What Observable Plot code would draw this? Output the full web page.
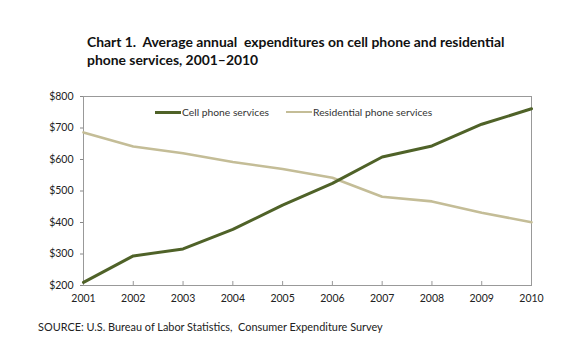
<!DOCTYPE html>
<html>
<head>
<meta charset="utf-8">
<script src="https://cdn.jsdelivr.net/npm/d3@7"></script>
<script src="https://cdn.jsdelivr.net/npm/@observablehq/plot@0.6"></script>
<style>
  html, body { margin: 0; padding: 0; background: #fff; }
  body { width: 578px; height: 357px; position: relative; overflow: hidden; font-family: Lato, "Open Sans", sans-serif; }
  #title { position: absolute; left: 87px; top: 33px; font-weight: bold; font-size: 13.9px; line-height: 18px; color: #111; white-space: pre; }
  #chart { position: absolute; left: 0; top: 80px; }
  #legend { position: absolute; top: 106px; left: 155px; font-size: 10.3px; color: #333; display: flex; align-items: center; white-space: nowrap; }
  #legend .sw { display: inline-block; width: 26px; height: 3px; margin-right: 1px; }
  #legend .item { display: flex; align-items: center; margin-right: 17px; }
  #source { position: absolute; left: 38px; top: 320px; font-size: 10.9px; color: #222; white-space: pre; }
</style>
</head>
<body>
<div id="title">Chart 1.  Average annual  expenditures on cell phone and residential
phone services, 2001–2010</div>
<div id="chart"></div>
<div id="legend"></div>
<div id="source">SOURCE: U.S. Bureau of Labor Statistics,  Consumer Expenditure Survey</div>
<script>
const years = [2001, 2002, 2003, 2004, 2005, 2006, 2007, 2008, 2009, 2010];
const cellPhone = [210, 294, 316, 378, 455, 524, 608, 643, 712, 761];
const residential = [686, 641, 620, 592, 570, 542, 482, 467, 431, 401];
const seriesNames = ["Cell phone services", "Residential phone services"];
const seriesColors = ["#4f6228", "#c4bd97"];
const yTicks = [200, 300, 400, 500, 600, 700, 800];

const rows = [];
years.forEach((y, i) => {
  rows.push({year: y, value: cellPhone[i], series: seriesNames[0]});
  rows.push({year: y, value: residential[i], series: seriesNames[1]});
});

const plot = Plot.plot({
  width: 578,
  height: 235,
  marginLeft: 83,
  marginRight: 47,
  marginTop: 16,
  marginBottom: 30,
  style: {fontFamily: "Lato, 'Open Sans', sans-serif", fontSize: "10.5px", color: "#222", background: "transparent"},
  x: {domain: [2001, 2010]},
  y: {domain: [200, 800]},
  color: {domain: seriesNames, range: seriesColors},
  marks: [
    Plot.frame({stroke: "#999", strokeWidth: 1}),
    Plot.axisY({ticks: yTicks, tickSize: 3, tickPadding: 7, tickFormat: d => "$" + d, stroke: "#888", label: null}),
    Plot.axisX({ticks: years, tickSize: -4, text: null, stroke: "#999", label: null}),
    Plot.axisX({ticks: years, tickSize: 0, tickPadding: 9, tickFormat: d => String(d), label: null}),
    Plot.line(rows.filter(d => d.series === seriesNames[1]), {x: "year", y: "value", stroke: "series", strokeWidth: 2.6}),
    Plot.line(rows.filter(d => d.series === seriesNames[0]), {x: "year", y: "value", stroke: "series", strokeWidth: 3})
  ]
});
document.getElementById("chart").appendChild(plot);

const legend = document.getElementById("legend");
seriesNames.forEach((name, i) => {
  const item = document.createElement("span");
  item.className = "item";
  const sw = document.createElement("span");
  sw.className = "sw";
  sw.style.background = seriesColors[i];
  sw.style.height = i === 0 ? "3px" : "2.5px";
  item.appendChild(sw);
  item.appendChild(document.createTextNode(name));
  legend.appendChild(item);
});
</script>
</body>
</html>
